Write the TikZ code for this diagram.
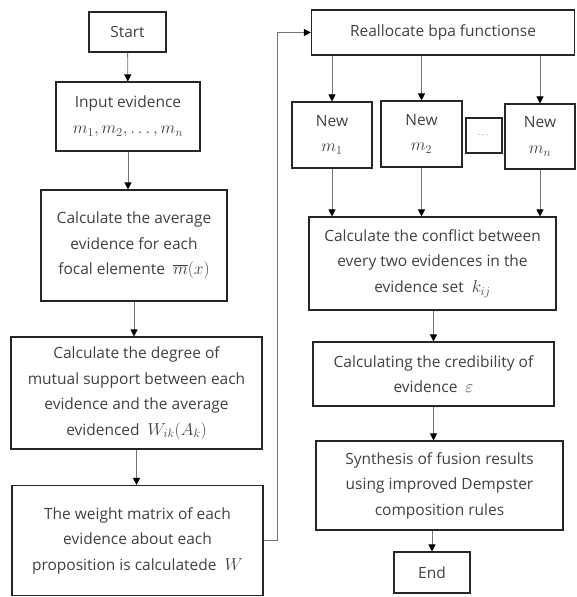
\documentclass[tikz,border=0pt]{standalone}
\usepackage{amsmath}
\usepackage{fontspec}
\setmainfont{Open Sans}
\usetikzlibrary{arrows.meta}
\newcommand\mth[1]{{\fontsize{18.5}{25.5}\selectfont$#1$}}

\begin{document}
\begin{tikzpicture}[x=1pt, y=-1pt,
  box/.style={draw=black!85, line width=1.1pt, align=center, inner sep=2pt,
    text=black!75, font=\fontsize{15.5}{25.5}\selectfont},
  flow/.style={draw=black!55, line width=0.8pt, -{Triangle[width=7pt,length=7pt,black]}}]
\useasboundingbox (0,0) rectangle (576,597);

\node[box, minimum width=77pt, minimum height=40pt] (start) at (127.5,32) {Start};
\node[box, minimum width=144pt, minimum height=69pt] (input) at (128,116.5) {Input evidence\\\mth{m_1, m_2, \dots, m_n}};
\node[box, minimum width=186pt, minimum height=111pt] (avg) at (134,245.5) {Calculate the average\\evidence for each\\focal elemente~ \mth{\overline{m}(x)}};
\node[box, minimum width=251pt, minimum height=112pt] (support) at (136.5,393) {Calculate the degree of\\mutual support between each\\evidence and the average\\evidenced~ \mth{W_{ik}(A_k)}};
\node[box, minimum width=251pt, minimum height=110pt] (weight) at (137.5,540.5) {The weight matrix of each\\evidence about each\\proposition is calculatede~ \mth{W}};

\node[box, minimum width=263pt, minimum height=45pt] (realloc) at (443,32.5) {Reallocate bpa functionse};
\node[box, minimum width=80pt, minimum height=66pt] (new1) at (332,135) {New\\\mth{m_1}};
\node[box, minimum width=81pt, minimum height=66pt] (new2) at (421.5,134) {New\\\mth{m_2}};
\node[box, minimum width=36pt, minimum height=35pt, font=\small] (dots) at (484,135.5) {$\dots$};
\node[box, minimum width=70pt, minimum height=65pt] (newn) at (540,136.5) {New\\\mth{m_n}};
\node[box, minimum width=247pt, minimum height=93pt] (conflict) at (432.5,263.5) {Calculate the conflict between\\every two evidences in the\\evidence set~ \mth{k_{ij}}};
\node[box, minimum width=241pt, minimum height=64pt] (cred) at (433.5,374) {Calculating the credibility of\\evidence~ \mth{\varepsilon}};
\node[box, minimum width=247pt, minimum height=89pt] (synth) at (439.5,485.5) {Synthesis of fusion results\\using improved Dempster\\composition rules};
\node[box, minimum width=76pt, minimum height=41pt] (end) at (432,572.5) {End};

\draw[flow] (start) -- (input);
\draw[flow] (input) -- (input.south |- avg.north);
\draw[flow] (avg.south) -- (avg.south |- support.north);
\draw[flow] (support.south) -- (support.south |- weight.north);
\draw[flow] (weight.east) -- ++(14,0) |- (realloc.west);
\draw[flow] (realloc.south -| new1.north) -- (new1.north);
\draw[flow] (realloc.south -| new2.north) -- (new2.north);
\draw[flow] (realloc.south -| newn.north) -- (newn.north);
\draw[flow] (new1.south) -- (new1.south |- conflict.north);
\draw[flow] (new2.south) -- (new2.south |- conflict.north);
\draw[flow] (newn.south) -- (newn.south |- conflict.north);
\draw[flow] (conflict.south -| cred.north) -- (cred.north);
\draw[flow] (cred.south) -- (cred.south |- synth.north);
\draw[flow] (synth.south -| end.north) -- (end.north);
\end{tikzpicture}
\end{document}
